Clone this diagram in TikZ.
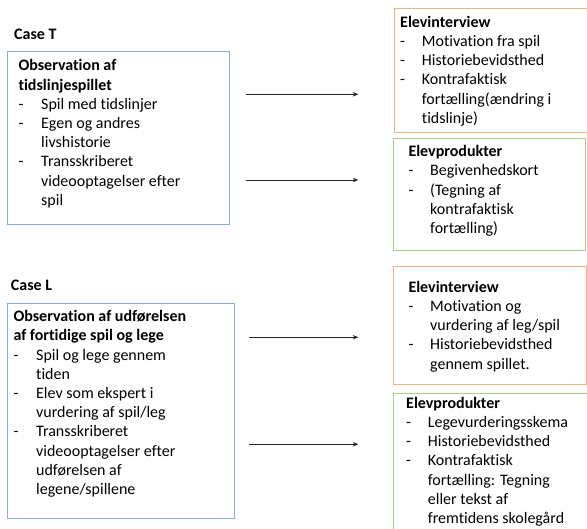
\documentclass[tikz,border=0pt]{standalone}
\usepackage{fontspec}
\setmainfont{Carlito}[Ligatures={NoCommon}]
\usetikzlibrary{arrows.meta}
\definecolor{obsblue}{HTML}{8FAADC}
\definecolor{intorange}{HTML}{F4B183}
\definecolor{prodgreen}{HTML}{A9D18E}
\newcommand\tb[1]{\begin{tabular}[t]{@{}l@{}}#1\end{tabular}}
\newcommand\itmA[1]{\makebox[22.7pt][l]{-}#1}
\newcommand\cntA[1]{\hspace*{22.7pt}#1}
\newcommand\itmB[1]{\makebox[21.7pt][l]{-}#1}
\newcommand\cntB[1]{\hspace*{21.7pt}#1}
\begin{document}
\begin{tikzpicture}[x=1pt,y=-1pt,
  txt/.style={anchor=base west,inner sep=0pt,font=\fontsize{16}{19.2}\selectfont},
  obsbox/.style={draw=obsblue,line width=1pt},
  intbox/.style={draw=intorange,line width=1pt},
  prodbox/.style={draw=prodgreen,line width=1pt},
  conn/.style={draw=black!85,line width=0.9pt,-{Stealth[length=5.5pt,width=4.5pt]}}]
\clip (0,0) rectangle (587,529);
\fill[white] (0,0) rectangle (587,529);
% Case T
\node[txt,font=\fontsize{16}{19.2}\selectfont\bfseries] (caseT) at (14,40) {Case T};
\draw[obsbox] (7.3,51.7) rectangle (229.3,224.3);
\node[txt] (obsT) at (18.3,71) {\tb{\textbf{Observation af}\\\textbf{tidslinjespillet}\\
\itmA{Spil med tidslinjer}\\\itmA{Egen og andres}\\\cntA{livshistorie}\\
\itmA{Transskriberet}\\\cntA{videooptagelser efter}\\\cntA{spil}}};
\draw[intbox] (394.3,8.3) rectangle (592,132.7);
\node[txt] (intT) at (400,27.3) {\tb{\textbf{Elevinterview}\\
\itmB{Motivation fra spil}\\\itmB{Historiebevidsthed}\\\itmB{Kontrafaktisk}\\
\cntB{fortælling(ændring i}\\\cntB{tidslinje)}}};
\draw[prodbox] (393.3,138.3) rectangle (585.5,250.7);
\node[txt] (prodT) at (408.3,156.7) {\tb{\textbf{Elevprodukter}\\
\itmB{Begivenhedskort}\\\itmB{(Tegning af}\\\cntB{kontrafaktisk}\\\cntB{fortælling)}}};
\coordinate (aT1s) at (245.7,94.3);
\coordinate (aT1e) at (358.3,94.3);
\coordinate (aT2s) at (245.7,180);
\coordinate (aT2e) at (358.3,180);
\draw[conn] (aT1s) -- (aT1e);
\draw[conn] (aT2s) -- (aT2e);
% Case L
\node[txt,font=\fontsize{16}{19.2}\selectfont\bfseries] (caseL) at (10.7,290.7) {Case L};
\draw[obsbox] (7.3,303.3) rectangle (234.3,518.3);
\node[txt] (obsL) at (13.3,321.7) {\tb{\textbf{Observation af udførelsen}\\\textbf{af fortidige spil og lege}\\
\itmA{Spil og lege gennem}\\\cntA{tiden}\\\itmA{Elev som ekspert i}\\\cntA{vurdering af spil/leg}\\
\itmA{Transskriberet}\\\cntA{videooptagelser efter}\\\cntA{udførelsen af}\\\cntA{legene/spillene}}};
\draw[intbox] (393.3,266.7) rectangle (586.7,385);
\node[txt] (intL) at (408.3,292.3) {\tb{\textbf{Elevinterview}\\
\itmB{Motivation og}\\\cntB{vurdering af leg/spil}\\\itmB{Historiebevidsthed}\\\cntB{gennem spillet.}}};
\draw[prodbox] (393.3,394) rectangle (592,540);
\node[txt] (prodL) at (406,408.3) {\tb{\textbf{Elevprodukter}\\
\itmB{Legevurderingsskema}\\\itmB{Historiebevidsthed}\\\itmB{Kontrafaktisk}\\
\cntB{fortælling: Tegning}\\\cntB{eller tekst af}\\\cntB{fremtidens skolegård}}};
\coordinate (aL1s) at (249.3,337.3);
\coordinate (aL1e) at (358.3,337.3);
\coordinate (aL2s) at (249.3,444.3);
\coordinate (aL2e) at (358.3,444.3);
\draw[conn] (aL1s) -- (aL1e);
\draw[conn] (aL2s) -- (aL2e);
\end{tikzpicture}
\end{document}
